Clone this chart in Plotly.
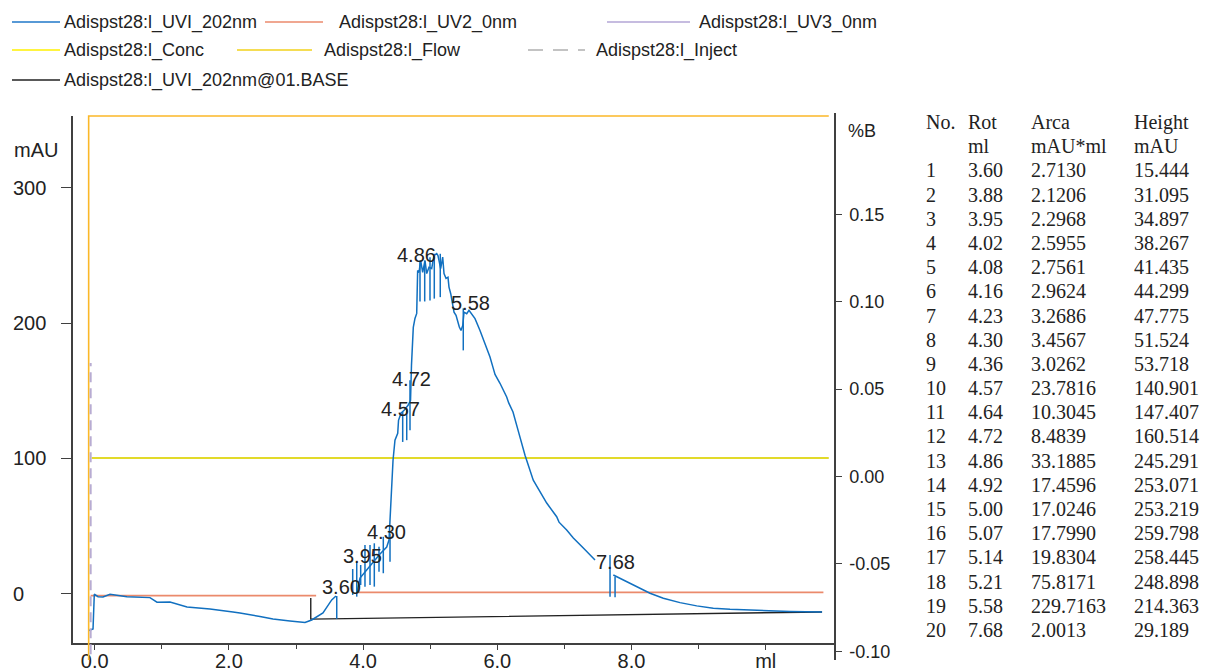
import plotly.graph_objects as go

# ---------------- data ----------------
# UV1 202 nm trace (ml, mAU); None = visible gaps in the trace
uv1_ml = [-0.085, -0.025, -0.006, 0.049, 0.124, 0.228, 0.481, 0.824, 0.928, 1.122,
          1.376, 1.718, 2.061, 2.165, 2.463, 2.657, 2.910, 3.134, 3.234, 3.402,
          3.532, 3.596, None,
          3.905, 3.954, 4.053, 4.148, 4.252, 4.352, 4.386, 4.401, 4.426, 4.446,
          4.475, 4.516, 4.528, 4.565, 4.611, 4.670, 4.707, 4.721, 4.748, 4.773,
          4.799, 4.813, 4.833, 4.858, 4.888, 4.922, 4.948, 4.982, 5.022, 5.057,
          5.097, 5.116, 5.156, 5.186, 5.206, 5.236, 5.265, 5.280, 5.306, 5.355,
          5.385, 5.404, 5.434, 5.459, 5.485, 5.504, 5.544, 5.578, 5.618, 5.668,
          5.742, 5.817, 5.891, 5.940, 5.966, 6.040, 6.140, 6.170, 6.234, 6.309,
          6.413, 6.536, 6.686, 6.736, 6.885, 6.920, 7.034, 7.133, 7.282, 7.456, None,
          7.729, 7.829, 7.978, 8.127, 8.276, 8.474, 8.723, 8.972, 9.219, 9.468,
          9.915, 10.362, 10.84]
uv1_mau = [-27.0, -25.8, -0.2, -2.0, -2.2, -0.2, -2.0, -2.7, -6.1, -5.9,
           -9.6, -11.1, -13.3, -14.0, -16.7, -18.4, -19.9, -21.1, -19.2, -14.0,
           -4.4, -1.5, None,
           0.5, 11.8, 17.7, 23.6, 29.5, 34.6, 39.8, 54.5, 84.0, 98.7,
           113.5, 118.6, 128.2, 133.4, 135.6, 139.3, 143.0, 168.8, 196.8, 203.4,
           207.1, 238.8, 237.3, 246.1, 237.3, 246.1, 236.5, 241.2, 240.2, 249.8,
           251.3, 249.8, 240.2, 248.6, 236.5, 232.9, 233.8, 226.5, 221.6, 208.0,
           205.6, 201.9, 197.0, 194.5, 198.2, 208.0, 206.9, 209.3, 206.9, 203.2,
           194.5, 185.0, 174.9, 166.5, 162.0, 155.5, 145.4, 141.0, 134.3, 120.9,
           102.4, 84.0, 71.7, 67.1, 57.0, 53.0, 47.2, 41.3, 33.9, 25.1, None,
           14.0, 11.6, 7.9, 4.2, 0.5, -3.2, -6.4, -8.8, -10.5, -11.3,
           -12.2, -12.9, -13.3]

# peak boundary drop lines (ml, top mAU, bottom mAU)
drop_ml = [3.607, 3.845, 3.905, 3.964, 4.028, 4.103, 4.167, 4.237, 4.301, 4.401,
           4.590, 4.650, 4.699, 4.848, 4.918, 4.997, 5.061, 5.150, 5.493, 7.680, 7.755]
drop_top = [-1.5, 18.4, 23.8, 21.4, 36.1, 36.1, 37.4, 34.9, 42.2, 44.7,
            134.3, 136.8, 157.7, 246.1, 246.1, 248.6, 251.1, 251.1, 210.8, 28.7, 12.7]
drop_bot = [-18.4, -0.7, -2.0, 6.6, 5.4, 6.6, 5.4, 16.4, 15.3, 23.8,
            112.2, 113.5, 120.9, 215.9, 215.9, 216.7, 218.0, 219.1, 179.8, -2.0, -2.4]

uv2_ml = [-0.06, 3.30, None, 3.91, 10.86]
uv2_mau = [-1.2, -1.2, None, 1.2, 1.2]

conc_ml = [-0.045, 10.94]
conc_mau = [100.4, 100.4]

base_ml = [3.22, 3.22, 10.84]
base_mau = [-3.0, -18.6, -13.3]

flow_ml = [-0.09, -0.09, 10.94]
flow_pb = [-0.12, 0.2062, 0.2062]

inject_ml = [-0.06, -0.06]
inject_pb = [-0.12, 0.065]

peak_label_text = ["3.60", "3.95", "4.30", "4.57", "4.72", "4.86", "5.58", "7.68"]
peak_label_ml = [3.671, 3.991, 4.349, 4.550, 4.717, 4.803, 5.598, 7.762]
peak_label_mau = [5.4, 28.2, 45.4, 136.5, 158.7, 250.2, 215.1, 23.8]

x_tickvals = [0, 2, 4, 6, 8, 10]
x_ticktext = ["0.0", "2.0", "4.0", "6.0", "8.0", "ml"]
x_minor = [1, 3, 5, 7, 9]
y_tickvals = [0, 100, 200, 300]
y_ticktext = ["0", "100", "200", "300"]
y2_tickvals = [-0.10, -0.05, 0.00, 0.05, 0.10, 0.15]
y2_ticktext = ["-0.10", "-0.05", "0.00", "0.05", "0.10", "0.15"]

tbl_no = list(range(1, 21))
tbl_ret = [3.60, 3.88, 3.95, 4.02, 4.08, 4.16, 4.23, 4.30, 4.36, 4.57,
           4.64, 4.72, 4.86, 4.92, 5.00, 5.07, 5.14, 5.21, 5.58, 7.68]
tbl_area = [2.7130, 2.1206, 2.2968, 2.5955, 2.7561, 2.9624, 3.2686, 3.4567, 3.0262, 23.7816,
            10.3045, 8.4839, 33.1885, 17.4596, 17.0246, 17.7990, 19.8304, 75.8171, 229.7163, 2.0013]
tbl_height = [15.444, 31.095, 34.897, 38.267, 41.435, 44.299, 47.775, 51.524, 53.718, 140.901,
              147.407, 160.514, 245.291, 253.071, 253.219, 259.798, 258.445, 248.898, 214.363, 29.189]

legend_rows = [
    [("Adispst28:l_UVI_202nm", "#1F77C8", "solid"),
     ("Adispst28:l_UV2_0nm", "#EB8A6C", "solid"),
     ("Adispst28:l_UV3_0nm", "#B3A6D6", "solid")],
    [("Adispst28:l_Conc", "#FFF000", "solid"),
     ("Adispst28:l_Flow", "#F2D21B", "solid"),
     ("Adispst28:l_Inject", "#B0B0B0", "dash")],
    [("Adispst28:l_UVI_202nm@01.BASE", "#222222", "solid")],
]

# ---------------- layout geometry (pixels) ----------------
W, H = 1205, 672
L, R, T, B = 73, 835, 113, 660
pw, ph = R - L, B - T
def pxx(x):
    return (x - L) / pw
def pxy(y):
    return (B - y) / ph

SANS = "Liberation Sans, Arial, sans-serif"
SERIF = "Liberation Serif, Times New Roman, serif"
AX = "#404040"
TXT = "#222222"

fig = go.Figure()

fig.add_trace(go.Scatter(x=conc_ml, y=conc_mau, mode="lines",
                         line=dict(color="#E2DA2A", width=2), showlegend=False))
fig.add_trace(go.Scatter(x=uv2_ml, y=uv2_mau, mode="lines",
                         line=dict(color="#EB8A6C", width=1.6), showlegend=False))
fig.add_trace(go.Scatter(x=flow_ml, y=flow_pb, yaxis="y2", mode="lines",
                         line=dict(color="#FBB828", width=1.6), showlegend=False))
fig.add_trace(go.Scatter(x=inject_ml, y=inject_pb, yaxis="y2", mode="lines",
                         line=dict(color="#B8ACD2", width=2, dash="10px,6px"), showlegend=False))
fig.add_trace(go.Scatter(x=base_ml, y=base_mau, mode="lines",
                         line=dict(color="#222222", width=1.4), showlegend=False))
fig.add_trace(go.Scatter(x=uv1_ml, y=uv1_mau, mode="lines",
                         line=dict(color="#1170C0", width=1.5), showlegend=False))

dx, dy = [], []
for xm, t, b in zip(drop_ml, drop_top, drop_bot):
    dx += [xm, xm, None]
    dy += [t, b, None]
fig.add_trace(go.Scatter(x=dx, y=dy, mode="lines",
                         line=dict(color="#1170C0", width=1.5), showlegend=False))

ann = []
for t, xm, ym in zip(peak_label_text, peak_label_ml, peak_label_mau):
    ann.append(dict(x=xm, y=ym, xref="x", yref="y", text=t, showarrow=False,
                    xanchor="center", yanchor="middle",
                    font=dict(family=SANS, size=20, color=TXT)))

# left tick labels (left aligned, as in the reference)
for v, t in zip(y_tickvals, y_ticktext):
    ann.append(dict(x=pxx(11), y=v, xref="paper", yref="y", text=t, showarrow=False,
                    xanchor="left", yanchor="middle",
                    font=dict(family=SANS, size=20, color=TXT)))
ann.append(dict(x=pxx(12), y=pxy(150), xref="paper", yref="paper", text="mAU",
                showarrow=False, xanchor="left", yanchor="middle",
                font=dict(family=SANS, size=20, color=TXT)))
ann.append(dict(x=pxx(846), y=pxy(131), xref="paper", yref="paper", text="%B",
                showarrow=False, xanchor="left", yanchor="middle",
                font=dict(family=SANS, size=18, color=TXT)))

# peak table
col_x = [924, 966, 1029, 1132]
row_y0, row_dy = 122, 24.19
headers = [["No.", "Rot", "Arca", "Height"], ["", "ml", "mAU*ml", "mAU"]]
rows = headers + [[str(n), f"{r:.2f}", f"{a:.4f}", f"{h:.3f}"]
                  for n, r, a, h in zip(tbl_no, tbl_ret, tbl_area, tbl_height)]
for k, row in enumerate(rows):
    for cx, cell in zip(col_x, row):
        if cell:
            ann.append(dict(x=pxx(cx), y=pxy(row_y0 + k * row_dy), xref="paper", yref="paper",
                            text=cell, showarrow=False, xanchor="left", yanchor="middle",
                            font=dict(family=SERIF, size=20, color=TXT)))

# custom legend
legend_y = [22, 50, 80]
legend_pos = [[(12, 60, 62), (265, 323, 337), (607, 690, 697)],
              [(12, 60, 62), (237, 312, 322), (528, 585, 594)],
              [(12, 60, 62)]]
shapes = []
for ry, items, pos in zip(legend_y, legend_rows, legend_pos):
    for (name, col, dash), (x0, x1, tx) in zip(items, pos):
        shapes.append(dict(type="line", xref="paper", yref="paper",
                           x0=pxx(x0), x1=pxx(x1), y0=pxy(ry), y1=pxy(ry),
                           line=dict(color=col, width=1.6,
                                     dash="15px,10px" if dash == "dash" else "solid")))
        ann.append(dict(x=pxx(tx), y=pxy(ry), xref="paper", yref="paper", text=name,
                        showarrow=False, xanchor="left", yanchor="middle",
                        font=dict(family=SANS, size=18, color=TXT)))

fig.update_layout(
    width=W, height=H,
    margin=dict(l=L, r=W - R, t=T, b=H - B, autoexpand=False),
    paper_bgcolor="white", plot_bgcolor="rgba(0,0,0,0)",
    showlegend=False,
    annotations=ann, shapes=shapes,
    xaxis=dict(domain=[0, 1], range=[(L - 94.7) / 67.1, (R - 94.7) / 67.1], anchor="y",
               automargin=False,
               showline=True, linecolor=AX, linewidth=1.5, showgrid=False, zeroline=False,
               ticks="outside", ticklen=5, tickwidth=1.2, tickcolor=AX,
               tickmode="array", tickvals=x_tickvals, ticktext=x_ticktext,
               ticklabelstandoff=-6,
               tickfont=dict(family=SANS, size=20, color=TXT),
               minor=dict(tickmode="array", tickvals=x_minor, ticks="outside",
                          ticklen=4, tickwidth=1.2, tickcolor=AX)),
    yaxis=dict(domain=[pxy(643), pxy(116)], range=[-36.2, 352.8], anchor="x",
               automargin=False,
               showline=True, linecolor=AX, linewidth=1.5, showgrid=False, zeroline=False,
               ticks="outside", ticklen=10, tickwidth=1.2, tickcolor=AX,
               tickmode="array", tickvals=y_tickvals, showticklabels=False),
    yaxis2=dict(domain=[0, 1], range=[-(B - 476.5) / 1748, (476.5 - T) / 1748],
                anchor="free", position=1, side="right", automargin=False,
                showline=True, linecolor=AX, linewidth=1.5, showgrid=False, zeroline=False,
                ticks="outside", ticklen=6, tickwidth=1.2, tickcolor=AX,
                tickmode="array", tickvals=y2_tickvals, ticktext=y2_ticktext,
                ticklabelstandoff=4,
                tickfont=dict(family=SANS, size=18, color=TXT)),
)

fig.write_html("out.html", config={"displayModeBar": False},
               post_script="document.body.style.margin='0px';")
